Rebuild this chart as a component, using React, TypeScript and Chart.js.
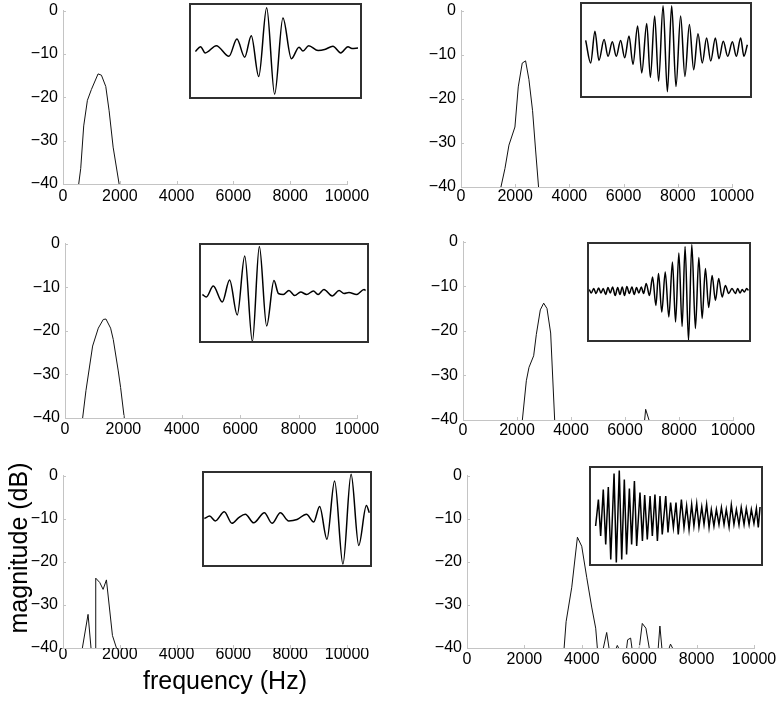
import React, { useEffect, useRef } from 'react';
import { Chart, registerables } from 'chart.js';

Chart.register(...registerables);

const FONT = '"Liberation Sans", Arial, Helvetica, sans-serif';
const AXIS_COLOR = '#c4c4c4';

// ---------- spectra: frequency (Hz) / magnitude (dB) ----------
const xTicksHz = [0, 2000, 4000, 6000, 8000, 10000];
const yTicksDb = [-40, -30, -20, -10, 0];

const spec1Freq = [553, 624, 729, 859, 1000, 1235, 1353, 1506, 1624, 1765, 1976];
const spec1Mag = [-40, -36.4, -26.6, -20.7, -18.2, -14.6, -14.9, -17.5, -23.1, -31.5, -40];

const spec2Freq = [1474, 1622, 1769, 1990, 2113, 2260, 2383, 2506, 2641, 2752, 2862];
const spec2Mag = [-40, -35.8, -30.5, -26.4, -17.3, -11.9, -11.4, -15.6, -22.7, -31.6, -40];

const spec3Freq = [604, 718, 946, 1140, 1311, 1402, 1562, 1653, 1824, 1904, 2030];
const spec3Mag = [-40, -33.7, -23.5, -19.4, -17.4, -17.3, -19.4, -22.0, -29.2, -33.0, -40];

const spec4Freq = [2198, 2346, 2444, 2617, 2716, 2864, 2988, 3111, 3247, 3395, 3600, 6728, 6765, 6889];
const spec4Mag = [-40, -31.2, -28.2, -25.6, -20.8, -15.3, -13.8, -15.0, -20.5, -40, null, -40, -37.6, -40];

const spec5Freq = [682, 882, 1000, 1140, 1153, 1294, 1412, 1529, 1741, 1882];
const spec5Mag = [-40, -32.2, -41, -41, -23.8, -24.8, -26.4, -24.2, -37.1, -40];

const spec6Freq = [3384, 3453, 3650, 3847, 3998, 4171, 4345, 4484, 4542, 4650, 4751, 4867, 4948, 5100, 5200, 5237, 5280, 5400, 5562, 5597, 5701, 5747, 5850, 6002, 6107, 6234, 6350, 6500, 6663, 6721, 6790, 6900, 7045, 7091, 7161];
const spec6Mag = [-40, -33.9, -25.9, -14.3, -16.4, -23.6, -30.5, -35.4, -40, null, -40, -36.4, -40, null, -40, -39.4, -40, null, -40, -38.1, -37.7, -40, null, -40, -34.3, -35.4, -40, null, -40, -34.9, -40, null, -40, -39.1, -40];

// ---------- inset waveforms: time (% of window) / normalised amplitude ----------
const wave1Time = [3.7, 6.7, 9.4, 15.8, 23.1, 27.7, 32.2, 36.0, 40.3, 44.9, 49.5, 54.3, 59.2, 63.6, 65.9, 69.2, 74.6, 78.4, 83.2, 87.7, 91.9, 94.2, 97.7];
const wave1Amp = [-0.01, 0.09, -0.04, 0.11, -0.11, 0.25, -0.13, 0.32, -0.53, 0.90, -0.90, 0.69, -0.16, 0.08, 0.0, 0.11, 0.01, 0.03, 0.10, -0.04, 0.09, 0.05, 0.06];

const wave2Time = [3.3, 6.2, 8.7, 11.0, 14.0, 16.3, 18.8, 21.1, 23.6, 26.0, 28.5, 30.8, 33.5, 35.9, 38.8, 40.9, 43.4, 45.7, 48.3, 50.8, 53.3, 55.8, 58.5, 61.0, 63.6, 66.1, 68.6, 71.1, 73.6, 76.0, 78.7, 80.8, 83.3, 85.9, 88.6, 90.9, 93.4, 95.3, 97.3];
const wave2Amp = [0.20, -0.27, 0.39, -0.22, 0.22, -0.13, 0.17, -0.13, 0.20, -0.16, 0.29, -0.30, 0.50, -0.48, 0.55, -0.57, 0.71, -0.65, 0.92, -0.87, 0.92, -0.76, 0.71, -0.55, 0.53, -0.41, 0.34, -0.27, 0.25, -0.23, 0.25, -0.18, 0.18, -0.13, 0.17, -0.13, 0.25, -0.13, 0.11];

const wave3Time = [2.0, 4.3, 8.4, 13.7, 18.0, 22.5, 26.9, 31.4, 35.5, 39.8, 44.1, 46.7, 49.6, 52.9, 56.3, 59.8, 63.3, 67.3, 70.0, 73.5, 78.4, 82.4, 85.3, 88.2, 92.7, 97.1, 98.0];
const wave3Amp = [-0.03, -0.08, 0.14, -0.18, 0.26, -0.44, 0.74, -0.97, 0.93, -0.66, 0.25, -0.01, -0.03, 0.05, -0.05, 0.02, -0.03, 0.04, -0.03, 0.07, -0.06, 0.05, -0.01, 0.01, -0.03, 0.07, 0.05];

const wave4Time = [1.4, 2.6, 4.1, 5.5, 7.1, 8.5, 9.9, 11.4, 12.8, 14.2, 15.6, 17.2, 18.7, 20.1, 21.5, 22.9, 24.3, 25.8, 27.4, 28.8, 30.2, 31.6, 33.1, 34.5, 36.1, 38.1, 40.0, 42.0, 43.6, 45.6, 47.7, 49.9, 52.1, 54.0, 56.0, 58.0, 59.8, 61.9, 63.9, 66.1, 68.2, 70.2, 72.2, 74.2, 76.3, 78.3, 80.3, 82.4, 84.4, 86.4, 88.4, 90.5, 91.9, 93.3, 94.7, 95.9, 97.4, 98.4];
const wave4Amp = [0.05, -0.02, 0.07, -0.03, 0.08, -0.02, 0.07, -0.05, 0.09, -0.02, 0.10, -0.07, 0.09, -0.05, 0.10, -0.07, 0.11, -0.03, 0.10, -0.05, 0.09, -0.02, 0.10, -0.03, 0.17, -0.07, 0.30, -0.27, 0.37, -0.40, 0.40, -0.50, 0.60, -0.60, 0.78, -0.69, 0.91, -0.97, 0.95, -0.73, 0.69, -0.53, 0.47, -0.31, 0.33, -0.17, 0.27, -0.10, 0.13, -0.03, 0.07, -0.03, 0.07, -0.02, 0.05, 0.0, 0.07, 0.03];

const wave5Time = [1.4, 4.5, 7.8, 13.1, 17.6, 21.6, 25.5, 30.4, 36.7, 41.2, 46.1, 51.0, 55.9, 61.4, 65.7, 69.2, 73.5, 78.0, 82.9, 87.7, 92.2, 96.7, 98.4];
const wave5Amp = [0.01, 0.06, -0.04, 0.15, -0.09, 0.03, 0.10, -0.08, 0.13, -0.09, 0.13, -0.04, -0.01, 0.10, -0.06, 0.26, -0.42, 0.79, -0.94, 0.93, -0.55, 0.28, 0.13];

const wave6Time = [3.8, 5.4, 6.7, 8.2, 9.6, 11.1, 12.5, 14.4, 15.7, 17.4, 18.8, 20.3, 21.6, 23.2, 24.5, 26.1, 27.4, 29.3, 30.7, 32.0, 33.5, 35.1, 36.4, 37.9, 39.3, 40.8, 42.1, 44.1, 45.4, 46.9, 48.5, 50.0, 51.3, 53.1, 54.6, 56.1, 57.5, 59.0, 60.3, 61.9, 63.2, 64.8, 66.1, 67.6, 69.0, 70.3, 71.8, 73.2, 74.7, 76.1, 77.6, 78.9, 80.5, 81.8, 83.3, 84.7, 86.2, 87.5, 89.1, 90.4, 92.0, 93.3, 94.8, 96.2, 97.3, 98.3];
const wave6Amp = [-0.20, 0.33, -0.40, 0.53, -0.57, 0.58, -0.87, 0.85, -0.93, 0.91, -0.87, 0.73, -0.77, 0.55, -0.57, 0.70, -0.60, 0.47, -0.50, 0.42, -0.47, 0.40, -0.40, 0.43, -0.50, 0.40, -0.37, 0.40, -0.33, 0.27, -0.23, 0.27, -0.37, 0.33, -0.23, 0.20, -0.27, 0.23, -0.20, 0.25, -0.22, 0.18, -0.17, 0.23, -0.23, 0.13, -0.20, 0.13, -0.17, 0.17, -0.17, 0.13, -0.22, 0.22, -0.17, 0.13, -0.18, 0.17, -0.17, 0.15, -0.17, 0.13, -0.15, 0.15, -0.23, 0.18];

// ---------- layout (pixels) ----------
type PanelBox = { x0: number; x1: number; yTop: number; yBot: number; labelPad: number };
type InsetBox = { l: number; t: number; r: number; b: number };

const Y_W = 50;
const PAD_T = 12;
const PAD_R = 30;
const X_H = 30;

const inwardTicks = {
  id: 'inwardTicks',
  afterDraw(chart: any) {
    const { ctx, chartArea, scales } = chart;
    ctx.save();
    ctx.strokeStyle = AXIS_COLOR;
    ctx.lineWidth = 1;
    scales.x.ticks.forEach((t: any) => {
      const px = Math.round(scales.x.getPixelForValue(t.value)) + 0.5;
      ctx.beginPath();
      ctx.moveTo(px, chartArea.bottom);
      ctx.lineTo(px, chartArea.bottom - 3);
      ctx.stroke();
    });
    scales.y.ticks.forEach((t: any) => {
      const py = Math.round(scales.y.getPixelForValue(t.value)) + 0.5;
      ctx.beginPath();
      ctx.moveTo(chartArea.left, py);
      ctx.lineTo(chartArea.left + 3, py);
      ctx.stroke();
    });
    ctx.restore();
  },
};

const frame = {
  id: 'frame',
  afterDraw(chart: any) {
    const { ctx, chartArea } = chart;
    ctx.save();
    ctx.strokeStyle = '#303030';
    ctx.lineWidth = 2;
    ctx.strokeRect(chartArea.left + 1, chartArea.top + 1, chartArea.right - chartArea.left - 2, chartArea.bottom - chartArea.top - 2);
    ctx.restore();
  },
};

function SpectrumPanel({ freq, mag, box }: { freq: number[]; mag: (number | null)[]; box: PanelBox }) {
  const ref = useRef<HTMLCanvasElement>(null);
  const left = Math.round(box.x0) - Y_W;
  const top = Math.round(box.yTop) - PAD_T;
  const width = Math.round(box.x1) - Math.round(box.x0) + Y_W + PAD_R;
  const height = Math.round(box.yBot) - Math.round(box.yTop) + PAD_T + X_H;
  useEffect(() => {
    const chart = new Chart(ref.current as HTMLCanvasElement, {
      type: 'line',
      data: {
        datasets: [
          {
            data: freq.map((f, i) => ({ x: f, y: mag[i] })) as any,
            borderColor: '#111',
            borderWidth: 1,
            pointRadius: 0,
            tension: 0,
            fill: false,
          },
        ],
      },
      options: {
        responsive: false,
        animation: false,
        events: [],
        layout: { padding: { left: 0, top: PAD_T, right: PAD_R, bottom: 0 } },
        plugins: { legend: { display: false }, tooltip: { enabled: false } },
        scales: {
          x: {
            type: 'linear',
            min: xTicksHz[0],
            max: xTicksHz[xTicksHz.length - 1],
            afterFit: (s: any) => { s.height = X_H; },
            afterBuildTicks: (s: any) => { s.ticks = xTicksHz.map((v) => ({ value: v })); },
            grid: { display: false, drawTicks: false },
            border: { color: AXIS_COLOR, width: 1 },
            ticks: {
              autoSkip: false,
              maxRotation: 0,
              padding: box.labelPad,
              color: '#000',
              font: { family: FONT, size: 16 },
              callback: (v: any) => String(v),
            },
          },
          y: {
            type: 'linear',
            min: yTicksDb[0],
            max: yTicksDb[yTicksDb.length - 1],
            afterFit: (s: any) => { s.width = Y_W; },
            afterBuildTicks: (s: any) => { s.ticks = yTicksDb.map((v) => ({ value: v })); },
            grid: { display: false, drawTicks: false },
            border: { color: AXIS_COLOR, width: 1 },
            ticks: {
              autoSkip: false,
              padding: 5,
              color: '#000',
              font: { family: FONT, size: 16 },
              callback: (v: any) => String(v).replace('-', '\u2212'),
            },
          },
        },
      },
      plugins: [inwardTicks],
    } as any);
    return () => chart.destroy();
  }, []);
  return <canvas ref={ref} width={width} height={height} style={{ position: 'absolute', left, top, width, height }} />;
}

function WaveInset({ time, amp, box, smooth }: { time: number[]; amp: number[]; box: InsetBox; smooth: boolean }) {
  const ref = useRef<HTMLCanvasElement>(null);
  const width = box.r - box.l;
  const height = box.b - box.t;
  useEffect(() => {
    const chart = new Chart(ref.current as HTMLCanvasElement, {
      type: 'line',
      data: {
        datasets: [
          {
            data: time.map((t, i) => ({ x: t, y: amp[i] })) as any,
            borderColor: '#000',
            borderWidth: 1.5,
            pointRadius: 0,
            cubicInterpolationMode: smooth ? 'monotone' : 'default',
            tension: 0,
            fill: false,
          },
        ],
      },
      options: {
        responsive: false,
        animation: false,
        events: [],
        layout: { padding: 0 },
        plugins: { legend: { display: false }, tooltip: { enabled: false } },
        scales: {
          x: { type: 'linear', display: false, min: 0, max: 100 },
          y: { type: 'linear', display: false, min: -1, max: 1 },
        },
      },
      plugins: [frame],
    } as any);
    return () => chart.destroy();
  }, []);
  return <canvas ref={ref} width={width} height={height} style={{ position: 'absolute', left: box.l, top: box.t, width, height, background: '#fff' }} />;
}

const panels: { freq: number[]; mag: (number | null)[]; box: PanelBox }[] = [
  { freq: spec1Freq, mag: spec1Mag, box: { x0: 63, x1: 347, yTop: 8, yBot: 184, labelPad: 3 } },
  { freq: spec2Freq, mag: spec2Mag, box: { x0: 461, x1: 732, yTop: 8, yBot: 187, labelPad: 0 } },
  { freq: spec3Freq, mag: spec3Mag, box: { x0: 65, x1: 357, yTop: 241, yBot: 418, labelPad: 2 } },
  { freq: spec4Freq, mag: spec4Mag, box: { x0: 463, x1: 733, yTop: 239, yBot: 420, labelPad: 1 } },
  { freq: spec5Freq, mag: spec5Mag, box: { x0: 63, x1: 347, yTop: 473, yBot: 648, labelPad: -3 } },
  { freq: spec6Freq, mag: spec6Mag, box: { x0: 467, x1: 754, yTop: 473, yBot: 648, labelPad: 2 } },
];

const insets: { time: number[]; amp: number[]; box: InsetBox; smooth: boolean }[] = [
  { time: wave1Time, amp: wave1Amp, box: { l: 189, t: 3, r: 362, b: 99 }, smooth: true },
  { time: wave2Time, amp: wave2Amp, box: { l: 580, t: 2, r: 752, b: 98 }, smooth: true },
  { time: wave3Time, amp: wave3Amp, box: { l: 199, t: 243, r: 369, b: 343 }, smooth: true },
  { time: wave4Time, amp: wave4Amp, box: { l: 587, t: 242, r: 751, b: 342 }, smooth: true },
  { time: wave5Time, amp: wave5Amp, box: { l: 202, t: 471, r: 372, b: 567 }, smooth: true },
  { time: wave6Time, amp: wave6Amp, box: { l: 589, t: 466, r: 763, b: 566 }, smooth: false },
];

export default function App() {
  return (
    <div style={{ position: 'absolute', left: 0, top: 0, width: 778, height: 706, background: '#fff', overflow: 'hidden' }}>
      {panels.map((p, i) => (
        <SpectrumPanel key={'p' + i} freq={p.freq} mag={p.mag} box={p.box} />
      ))}
      {insets.map((w, i) => (
        <WaveInset key={'w' + i} time={w.time} amp={w.amp} box={w.box} smooth={w.smooth} />
      ))}
      <div
        style={{
          position: 'absolute', left: 18 - 150, top: 548 - 14, width: 300, height: 28, lineHeight: '28px',
          textAlign: 'center', transform: 'rotate(-90deg)', fontFamily: FONT, fontSize: 25, color: '#000', whiteSpace: 'nowrap',
        }}
      >
        magnitude (dB)
      </div>
      <div
        style={{
          position: 'absolute', left: 225 - 150, top: 666, width: 300, height: 28, lineHeight: '28px',
          textAlign: 'center', fontFamily: FONT, fontSize: 25, color: '#000', whiteSpace: 'nowrap',
        }}
      >
        frequency (Hz)
      </div>
    </div>
  );
}
